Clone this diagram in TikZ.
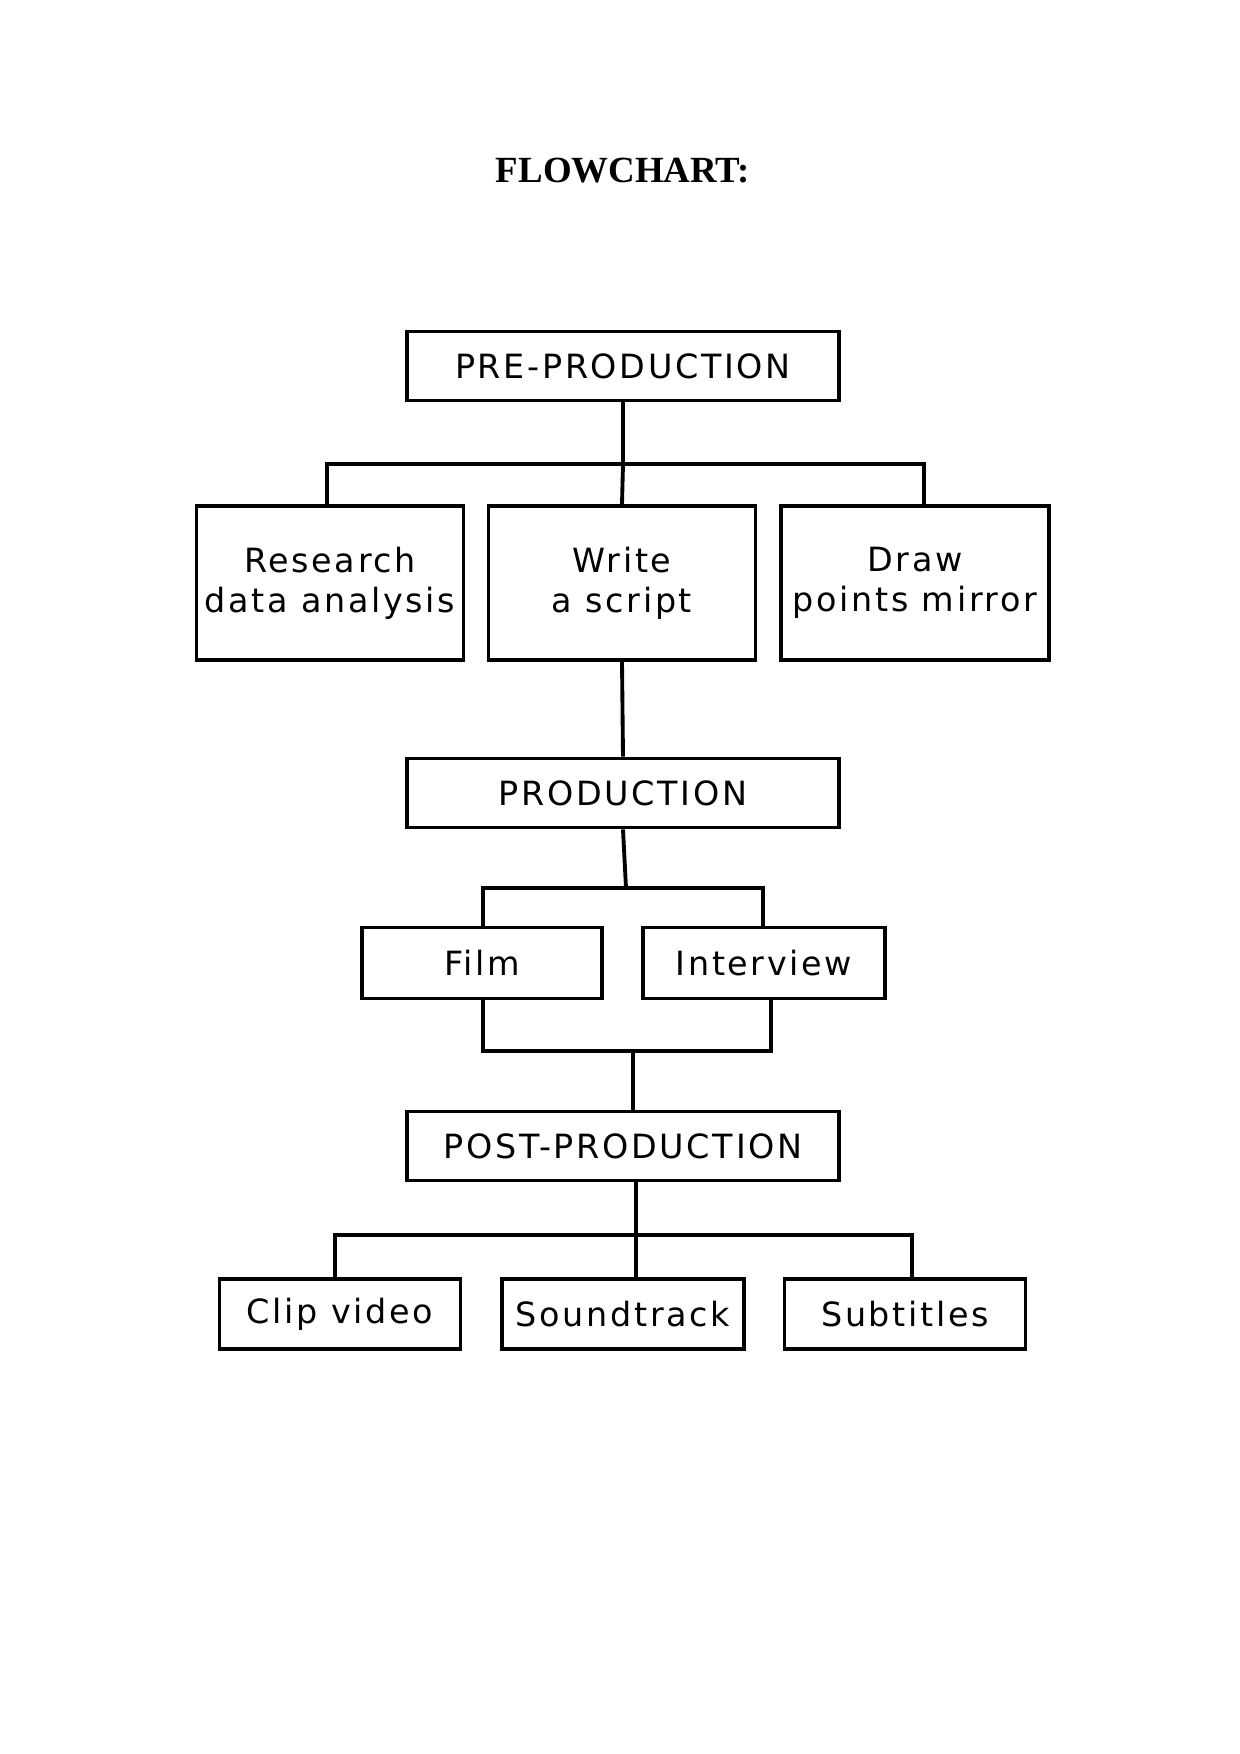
\documentclass[tikz,border=0pt]{standalone}
\usepackage{fontspec}
\setmainfont{Liberation Serif}
\newfontfamily\boxfont[LetterSpace=8]{DejaVu Sans}
\begin{document}
\begin{tikzpicture}[x=0.02cm,y=-0.02cm,line width=2.2pt,
  box/.style={draw,rectangle,inner sep=0pt,font=\boxfont\fontsize{19}{23}\selectfont,align=center}]
  \useasboundingbox (0,0) rectangle (1240,1754);

  % Title
  \node[font=\bfseries\fontsize{21}{25}\selectfont] (title) at (623,171) {FLOWCHART:};

  % Pre-production
  \node[box,minimum width=8.64cm,minimum height=1.38cm] (pre) at (623,366) {PRE-PRODUCTION};
  \node[box,minimum width=5.34cm,minimum height=3.08cm] (research) at (330,583) {Research\\data analysis};
  \node[box,minimum width=5.34cm,minimum height=3.08cm] (write) at (622,583) {Write\\a script};
  \node[box,minimum width=5.36cm,minimum height=3.08cm] (draw) at (915,583) {Draw\\points mirror};
  \coordinate (bus1) at (623,464);
  \draw (pre.south) -- (bus1);
  \draw (research.north -| 327,0) -- (327,464) -- (924,464) -- (draw.north -| 924,0);
  \draw (bus1) -- (write.north);

  % Production
  \node[box,minimum width=8.64cm,minimum height=1.38cm] (prod) at (623,793) {PRODUCTION};
  \draw (write.south) -- (prod.north);
  \node[box,minimum width=4.8cm,minimum height=1.42cm] (film) at (482,963) {Film};
  \node[box,minimum width=4.84cm,minimum height=1.42cm] (interview) at (764,963) {Interview};
  \draw (prod.south) -- (626,888);
  \draw (film.north -| 483,0) -- (483,888) -- (763,888) -- (interview.north -| 763,0);
  \draw (film.south -| 483,0) -- (483,1051) -- (771,1051) -- (interview.south -| 771,0);

  % Post-production
  \node[box,minimum width=8.64cm,minimum height=1.38cm] (post) at (623,1146) {POST-PRODUCTION};
  \draw (633,1051) -- (post.north -| 633,0);
  \node[box,minimum width=4.82cm,minimum height=1.4cm] (clip) at (340,1314) {Clip video};
  \node[box,minimum width=4.84cm,minimum height=1.4cm] (sound) at (623,1314) {Soundtrack};
  \node[box,minimum width=4.82cm,minimum height=1.4cm] (subs) at (905,1314) {Subtitles};
  \draw (post.south -| 636,0) -- (sound.north -| 636,0);
  \draw (clip.north -| 335,0) -- (335,1235) -- (912,1235) -- (subs.north -| 912,0);
\end{tikzpicture}
\end{document}
